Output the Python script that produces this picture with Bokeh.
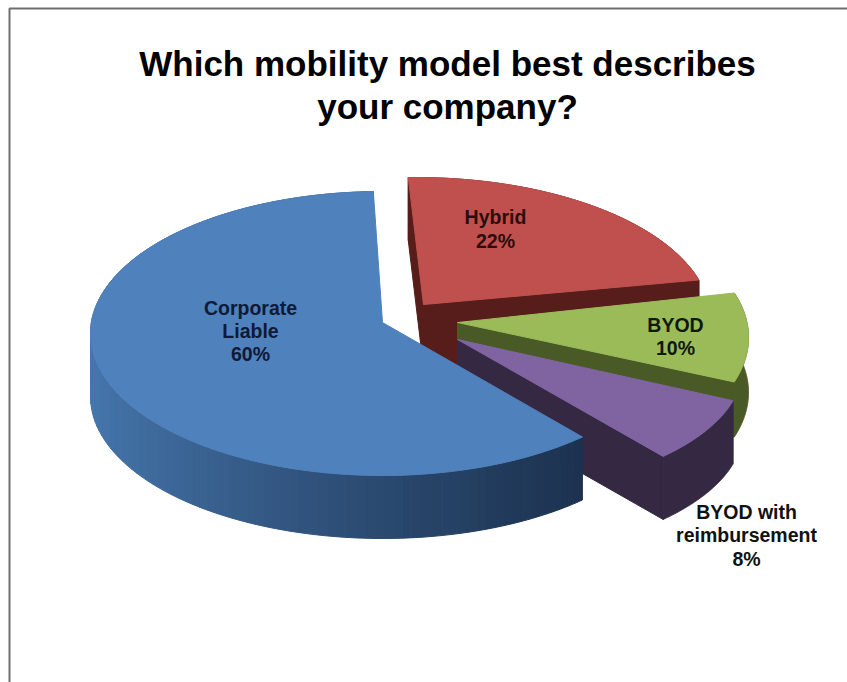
import numpy as np
from bokeh.core.properties import value
from bokeh.embed import file_html
from bokeh.models import Range1d
from bokeh.plotting import figure
from bokeh.resources import INLINE

# Survey shares, in percent
categories = ["Corporate Liable", "Hybrid", "BYOD", "BYOD with reimbursement"]
shares = [60, 22, 10, 8]

title_lines = ["Which mobility model best describes", "your company?"]

# Drawing order runs back to front: Hybrid, BYOD, reimbursement, Corporate Liable
# "faces" lists which rim ends (0 first, -1 last) show a cut face running to the apex
slices = {
    "Corporate Liable": dict(rim=(382, 333, 292, 142), apex=(382, 322), start=91.8, direction=1, stretch=1.025,
                             depth=63, top="#4f81bd", wall="#1d3350", faces=[]),
    "Hybrid": dict(rim=(415, 319, 295, 142), apex=(423, 304), start=91.4, direction=-1, stretch=0.95,
                   depth=63, top="#c0504d", wall="#561d1b", faces=[0, -1]),
    "BYOD": dict(rim=(458, 337, 290, 144), apex=(457, 322), start=18.0, direction=-1, stretch=1.0,
                 depth=55, top="#9bbb59", wall="#4a5a26", faces=[-1]),
    "BYOD with reimbursement": dict(rim=(452, 368, 290, 128), apex=(457, 339), start=-14.6, direction=-1, stretch=1.0,
                                    depth=63, top="#8064a2", wall="#352843", faces=[-1]),
}
draw_order = ["Hybrid", "BYOD", "BYOD with reimbursement", "Corporate Liable"]

label_spots = {
    "Corporate Liable": (250, [307, 330, 353], ["Corporate", "Liable"], "#0e1a38"),
    "Hybrid": (495, [216, 240], ["Hybrid"], "#2c0c0c"),
    "BYOD": (675, [324, 347], ["BYOD"], "#10180a"),
    "BYOD with reimbursement": (746, [511, 534, 558], ["BYOD with", "reimbursement"], "#111111"),
}

p = figure(width=847, height=682, output_backend="svg", toolbar_location=None,
           x_range=Range1d(0, 847), y_range=Range1d(682, 0), min_border=0,
           background_fill_color="#ffffff", border_fill_color="#ffffff")
p.axis.visible = False
p.grid.visible = False
p.outline_line_color = None

# Frame along the top and left of the slide
p.line([9, 9, 847], [682, 8, 8], line_color="#6e6e6e", line_width=2)


def rim_points(name, share):
    s = slices[name]
    cx, cy, a, b = s["rim"]
    sweep = share * 3.6 * s["stretch"] * s["direction"]
    t = np.radians(np.linspace(s["start"], s["start"] + sweep, 120))
    return cx + a * np.cos(t), cy - b * np.sin(t)


def mix(c1, c2, f):
    a = [int(c1[i:i + 2], 16) for i in (1, 3, 5)]
    b = [int(c2[i:i + 2], 16) for i in (1, 3, 5)]
    return "#" + "".join(f"{round(u + (v - u) * f):02x}" for u, v in zip(a, b))


for name in draw_order:
    share = shares[categories.index(name)]
    s = slices[name]
    x, y = rim_points(name, share)
    d = s["depth"]
    ax, ay = s["apex"]

    # Outer wall, built from narrow quads; the large slice darkens towards the right
    if name == "Corporate Liable":
        xs, ys, colors = [], [], []
        for i in range(len(x) - 1):
            xs.append([x[i], x[i + 1], x[i + 1], x[i]])
            ys.append([y[i], y[i + 1], y[i + 1] + d, y[i] + d])
            f = (0.5 * (x[i] + x[i + 1]) - x.min()) / (x.max() - x.min())
            colors.append(mix("#4677ae", "#1c324f", f ** 0.8))
        p.patches(xs, ys, fill_color=colors, line_color=colors, line_width=1)
    else:
        p.patch(list(x) + list(x[::-1]), list(y) + list(y[::-1] + d),
                fill_color=s["wall"], line_color=s["wall"], line_width=1)

    # Cut faces running from the apex out to the rim
    for end in s["faces"]:
        ex, ey = x[end], y[end]
        p.patch([ax, ex, ex, ax], [ay, ey, ey + d, ay + d],
                fill_color=s["wall"], line_color=s["wall"], line_width=1)

    # Top surface
    p.patch([ax] + list(x), [ay] + list(y), fill_color=s["top"], line_color=s["top"], line_width=1)

# Title
p.text([447, 447], [63, 106], text=title_lines, text_font=value("Liberation Sans"),
       text_font_style="bold", text_font_size="35px", text_align="center", text_baseline="middle",
       text_color="#000000")

# Slice labels, with the percentage taken from the shares
for name, share in zip(categories, shares):
    lx, ly, words, color = label_spots[name]
    p.text([lx] * len(ly), ly, text=words + [f"{share}%"], text_font=value("Liberation Sans"),
           text_font_style="bold", text_font_size="19.5px", text_align="center", text_baseline="middle",
           text_color=color)

open("out.html", "w").write(file_html(p, INLINE))
